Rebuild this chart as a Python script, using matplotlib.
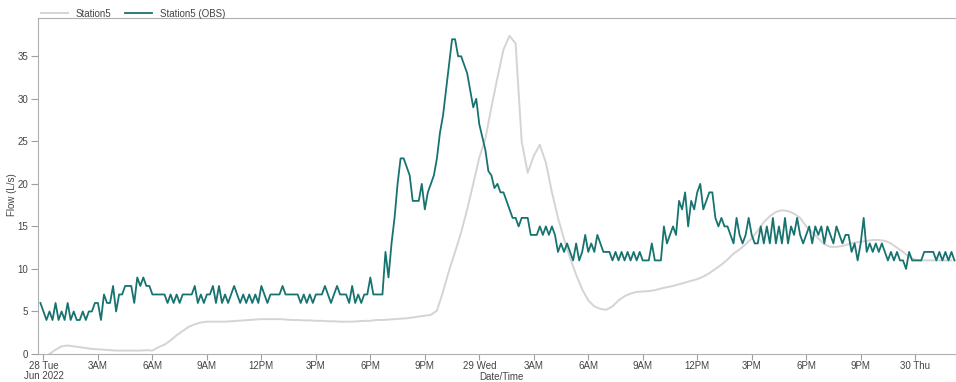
import numpy as np
import pandas as pd
import matplotlib
matplotlib.use("Agg")
import matplotlib.pyplot as plt
import matplotlib.dates as mdates

plt.rcParams["font.family"] = ["Liberation Sans", "DejaVu Sans"]

# observed flow, 10-minute readings from 27 Jun 23:50
obs_flow = [
    6,
    5, 4, 5, 4, 6, 4,   5, 4, 6, 4, 5, 4,   4, 5, 4, 5, 5, 6,
    6, 4, 7, 6, 6, 8,   5, 7, 7, 8, 8, 8,   6, 9, 8, 9, 8, 8,
    7, 7, 7, 7, 7, 6,   7, 6, 7, 6, 7, 7,   7, 7, 8, 6, 7, 6,
    7, 7, 8, 6, 8, 6,   7, 6, 7, 8, 7, 6,   7, 6, 7, 6, 7, 6,
    8, 7, 6, 7, 7, 7,   7, 8, 7, 7, 7, 7,   7, 6, 7, 6, 7, 6,
    7, 7, 7, 8, 7, 6,   7, 8, 7, 7, 7, 6,   8, 6, 7, 6, 7, 7,
    9, 7, 7, 7, 7, 12,  9, 13, 16, 20, 23, 23,  22, 21, 18, 18, 18, 20,
    17, 19, 20, 21, 23, 26,  28, 31, 34, 37, 37, 35,  35, 34, 33, 31, 29, 30,
    27, 25.5, 24, 21.5, 21, 19.5,  20, 19, 19, 18, 17, 16,  16, 15, 16, 16, 16, 14,
    14, 14, 15, 14, 15, 14,  15, 14, 12, 13, 12, 13,  12, 11, 13, 11, 12, 14,
    12, 13, 12, 14, 13, 12,  12, 12, 11, 12, 11, 12,  11, 12, 11, 12, 11, 12,
    11, 11, 11, 13, 11, 11,  11, 15, 13, 14, 15, 14,  18, 17, 19, 15, 18, 17,
    19, 20, 17, 18, 19, 19,  16, 15, 16, 15, 15, 14,  13, 16, 14, 13, 14, 16,
    14, 13, 13, 15, 13, 15,  13, 16, 13, 15, 13, 16,  13, 15, 14, 16, 14, 13,
    14, 15, 13, 15, 14, 15,  13, 15, 14, 13, 15, 14,  13, 14, 14, 12, 13, 11,
    13, 16, 12, 13, 12, 13,  12, 13, 12, 11, 12, 11,  12, 11, 11, 10, 12, 11,
    11, 11, 11, 12, 12, 12,  12, 11, 12, 11, 12, 11,
    12, 11,
]

# modelled flow, 20-minute steps from 28 Jun 00:20
model_flow = [
    0.0, 0.5,
    0.9, 1.0, 0.9,   0.8, 0.7, 0.6,   0.55, 0.5, 0.45,  0.4, 0.4, 0.4,
    0.4, 0.4, 0.45,  0.4, 0.8, 1.1,   1.6, 2.2, 2.7,    3.2, 3.5, 3.7,
    3.8, 3.8, 3.8,   3.8, 3.85, 3.9,  3.95, 4.0, 4.05,  4.1, 4.1, 4.1,
    4.1, 4.05, 4.0,  4.0, 3.95, 3.95, 3.9, 3.9, 3.85,   3.85, 3.8, 3.8,
    3.8, 3.85, 3.9,  3.9, 4.0, 4.0,   4.05, 4.1, 4.15,  4.2, 4.3, 4.4,
    4.5, 4.6, 5.1,   7.3, 9.8, 12.0,  14.3, 17.0, 20.0, 23.1, 25.3, 29.0,
    32.5, 35.8, 37.4,  36.5, 25.0, 21.3,  23.3, 24.6, 22.5,  19.0, 16.0, 13.5,
    11.3, 9.3, 7.6,  6.3, 5.6, 5.3,   5.2, 5.6, 6.3,    6.8, 7.1, 7.3,
    7.35, 7.4, 7.5,  7.7, 7.85, 8.0,  8.2, 8.4, 8.6,    8.8, 9.1, 9.5,
    10.0, 10.5, 11.1,  11.8, 12.3, 12.9,  13.6, 14.5, 15.5,  16.2, 16.7, 16.9,
    16.8, 16.5, 16.0,  15.0, 14.3, 13.6,  12.9, 12.6, 12.6,  12.7, 12.9, 13.1,
    13.2, 13.3, 13.4,  13.4, 13.3, 13.0,  12.5, 12.0, 11.4,  11.1, 11.0, 11.0,
    11.0, 11.0, 11.0,
    11.0,
]

tick_labels = ["28 Tue\nJun 2022", "3AM", "6AM", "9AM", "12PM", "3PM", "6PM", "9PM",
               "29 Wed", "3AM", "6AM", "9AM", "12PM", "3PM", "6PM", "9PM", "30 Thu"]

obs_time = pd.date_range("2022-06-27 23:50", periods=len(obs_flow), freq="10min")
model_time = pd.date_range("2022-06-28 00:20", periods=len(model_flow), freq="20min")
tick_time = pd.date_range("2022-06-28 00:00", periods=len(tick_labels), freq="3h")

text_col = "#444444"

fig = plt.figure(figsize=(9.56, 3.82), dpi=100)
ax = fig.add_axes([38 / 956, 1 - 354 / 382, 1 - 38 / 956, (354 - 18) / 382])

l1, = ax.plot(model_time, model_flow, color="#d4d4d4", lw=1.4, label="Station5")
l2, = ax.plot(obs_time, obs_flow, color="#17736f", lw=1.3, label="Station5 (OBS)")

ax.set_xlim(pd.Timestamp("2022-06-27 23:42"), pd.Timestamp("2022-06-30 02:15"))
ax.set_ylim(0, 39.5)
ax.set_yticks(np.arange(0, 36, 5))
ax.set_xticks(mdates.date2num(tick_time))
ax.set_xticklabels(tick_labels, linespacing=1.05)

ax.spines["right"].set_visible(False)
for s in ["left", "bottom", "top"]:
    ax.spines[s].set_color("#b0b0b0")
    ax.spines[s].set_linewidth(0.8)
ax.tick_params(axis="both", colors="#a0a0a0", labelcolor=text_col, labelsize=7,
               length=5, width=0.8, pad=2)
ax.tick_params(axis="x", length=4, pad=1)

# axis titles placed by hand so they stay inside the canvas
fig.text(501 / 956, 1 - 377 / 382, "Date/Time", fontsize=7, color=text_col,
         ha="center", va="center")
fig.text(12 / 956, 1 - 195 / 382, "Flow (L/s)", fontsize=7, color=text_col,
         ha="center", va="center", rotation=90)

fig.legend(handles=[l1, l2], loc="upper left", bbox_to_anchor=(0.0335, 1.0), ncol=2,
           frameon=False, fontsize=7, handlelength=2.8, columnspacing=1.4,
           labelcolor=text_col)

fig.savefig("out.png", dpi=100)
